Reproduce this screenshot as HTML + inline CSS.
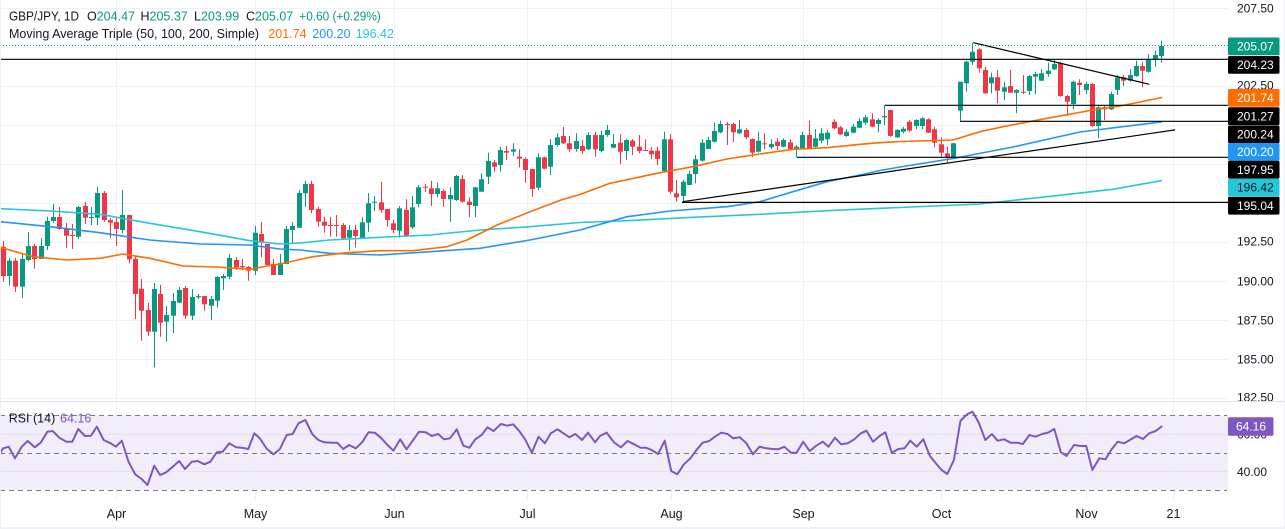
<!DOCTYPE html>
<html><head><meta charset="utf-8">
<style>
html,body{margin:0;padding:0;background:#fff;}
body{width:1285px;height:529px;overflow:hidden;position:relative;}
svg{position:absolute;left:0;top:0;}
</style></head><body>
<svg id="c" width="1285" height="529" viewBox="0 0 1285 529" xmlns="http://www.w3.org/2000/svg" font-family="'Liberation Sans', Arial, sans-serif">
<defs>
<clipPath id="pp"><rect x="0" y="0" width="1228" height="401"/></clipPath>
<clipPath id="pa"><rect x="1228" y="0" width="57" height="401"/></clipPath>
<clipPath id="rp"><rect x="0" y="402" width="1228" height="98"/></clipPath>
</defs>
<rect x="0" y="0" width="1285" height="529" fill="#fff"/>
<!-- RSI band -->
<rect x="0" y="415.3" width="1228" height="74.7" fill="#f2eef9"/>
<!-- grid -->
<g stroke="#eef0f4" stroke-width="1">
<line x1="0" x2="1228" y1="8.5" y2="8.5"/>
<line x1="0" x2="1228" y1="47.5" y2="47.5"/>
<line x1="0" x2="1228" y1="86.5" y2="86.5"/>
<line x1="0" x2="1228" y1="125.5" y2="125.5"/>
<line x1="0" x2="1228" y1="164.5" y2="164.5"/>
<line x1="0" x2="1228" y1="203.5" y2="203.5"/>
<line x1="0" x2="1228" y1="242.5" y2="242.5"/>
<line x1="0" x2="1228" y1="281.5" y2="281.5"/>
<line x1="0" x2="1228" y1="320.5" y2="320.5"/>
<line x1="0" x2="1228" y1="359.5" y2="359.5"/>
<line x1="0" x2="1228" y1="398.5" y2="398.5"/>
<line x1="0" x2="1228" y1="434.5" y2="434.5" stroke="#e6e1f2"/>
<line x1="0" x2="1228" y1="471.5" y2="471.5" stroke="#e6e1f2"/>
</g>
<g stroke="#eef0f4" stroke-width="1">
<line x1="116.5" x2="116.5" y1="0" y2="500"/>
<line x1="255.5" x2="255.5" y1="0" y2="500"/>
<line x1="394.5" x2="394.5" y1="0" y2="500"/>
<line x1="527.5" x2="527.5" y1="0" y2="500"/>
<line x1="671.5" x2="671.5" y1="0" y2="500"/>
<line x1="803.5" x2="803.5" y1="0" y2="500"/>
<line x1="941.5" x2="941.5" y1="0" y2="500"/>
<line x1="1086.5" x2="1086.5" y1="0" y2="500"/>
<line x1="1173.5" x2="1173.5" y1="0" y2="500"/>
</g>
<!-- pane separator -->
<line x1="0" x2="1285" y1="401.5" y2="401.5" stroke="#e0e3eb" stroke-width="1"/>

<g clip-path="url(#pp)">
<g id="candles"></g>
<!-- moving averages -->
<polyline fill="none" stroke="#26c6da" stroke-width="1.6" stroke-linejoin="round" points="0,208.7 50,211 100,214.3 150,223.3 200,231.7 250,240.7 280,244 300,243 330,240 380,237.3 430,235 480,230 530,226.7 580,222.5 627,220.7 693,217.3 760,214.3 827,210.7 880,208.3 900,207.5 980,204 1047,196.7 1113,189.3 1162,180.5"/>
<polyline fill="none" stroke="#2196f3" stroke-width="1.6" stroke-linejoin="round" points="0,221.7 50,226.7 100,232.7 150,240 200,244 250,245 280,249 300,250 330,253.3 380,255 430,251.7 480,248.3 530,240 580,230 627,216.7 670,211 727,206.7 760,201.7 793,191.7 827,181.7 860,175 880,170.5 900,167 953,158.5 1013,147 1080,132 1162,121.8"/>
<polyline fill="none" stroke="#ff6d00" stroke-width="1.6" stroke-linejoin="round" points="0,247.3 33,256.7 67,260 100,258.3 123,254 150,258.3 183,266 217,267 250,269.3 267,266 280,264 300,259.5 313,256.7 347,252.7 380,250.7 413,250.7 447,246.7 467,240 497,225 530,211.7 563,199.3 580,194.5 610,183.3 660,172.7 693,166.7 727,159 760,154 793,149.3 827,147.7 860,144.3 880,142.7 900,141.5 953,140 980,131.7 1003,126.7 1047,118.3 1093,110 1120,106 1162,97.5"/>
<!-- drawings -->
<g stroke="#000" stroke-width="1.2" fill="none">
<line x1="0" x2="1228" y1="59.3" y2="59.3"/>
<line x1="885" x2="1228" y1="105.3" y2="105.3"/>
<line x1="960" x2="1228" y1="121.3" y2="121.3"/>
<line x1="797" x2="1228" y1="157.3" y2="157.3"/>
<line x1="682" x2="1228" y1="202.4" y2="202.4"/>
<line x1="682.7" x2="1175" y1="201.7" y2="129.9"/>
<line x1="973.3" x2="1149.3" y1="42.7" y2="84.3"/>
</g>
<line x1="0" x2="1228" y1="45.5" y2="45.5" stroke="#089981" stroke-width="1" stroke-dasharray="1,2"/>
</g>

<!-- legend -->
<g font-size="12.5" fill="#131722">
<text x="9" y="20.5" textLength="70" lengthAdjust="spacingAndGlyphs">GBP/JPY, 1D</text>
<text x="87" y="20.5">O<tspan fill="#089981">204.47</tspan></text>
<text x="140.5" y="20.5">H<tspan fill="#089981">205.37</tspan></text>
<text x="194" y="20.5">L<tspan fill="#089981">203.99</tspan></text>
<text x="246" y="20.5">C<tspan fill="#089981">205.07</tspan></text>
<text x="299.3" y="20.5" fill="#089981" textLength="81.5" lengthAdjust="spacingAndGlyphs">+0.60 (+0.29%)</text>
<text x="9" y="38" textLength="250" lengthAdjust="spacingAndGlyphs">Moving Average Triple (50, 100, 200, Simple)</text>
<text x="268.3" y="38" fill="#ff6d00">201.74</text>
<text x="312.3" y="38" fill="#2196f3">200.20</text>
<text x="355.7" y="38" fill="#26c6da">196.42</text>
</g>

<!-- RSI pane -->
<g stroke="#787b86" stroke-width="1" stroke-dasharray="5,4">
<line x1="0" x2="1227" y1="415.5" y2="415.5"/>
<line x1="0" x2="1227" y1="453.5" y2="453.5"/>
<line x1="0" x2="1227" y1="490.5" y2="490.5"/>
</g>
<g clip-path="url(#rp)">
<polyline id="rsi" fill="none" stroke="#7e57c2" stroke-width="2" stroke-linejoin="round" points="0,453.3 3.2,448.3 8.7,446.7 15,458.3 21.7,446.7 27.7,441 34.8,447.3 40.7,442.7 47.4,431.7 52.6,431 59.3,437.7 66.4,441.7 72.4,441.7 78.3,429 85,436 91,435.7 96.9,426.7 103.6,440 110.7,443.3 115.9,446.7 121.8,440.7 128.5,461.7 135.2,474.3 141.6,479 147.5,485 154.2,465.7 160.1,475 166.1,472.3 172.8,466.7 179.1,461 185,469 191.8,461.7 197.7,461 204.4,464.3 210.4,461.7 216.7,452.3 222.6,451.7 229.3,443.3 236.1,447.3 242,447.7 248.3,449 254.3,433.3 259.8,438.3 266.9,449 273.6,454.3 279.9,449 286.7,435 292.6,434 298.5,423.3 305.3,420 312.4,434.3 318.3,440 324.2,442.3 331.4,442.7 337.3,442.7 343.2,449 349.1,445 355.9,448.3 362.6,441.7 368.5,432.3 374.8,432.7 380.8,437.7 387.5,445 393.4,450.7 400.2,439.3 406.5,449.3 413.2,440 419.1,431.7 425.9,432.3 431.8,436 438.1,434 444,439.3 450,438.3 456.7,429.3 463.4,445.7 469.4,447.7 475.3,439.3 481.6,435 487.5,427.3 493.5,431 501,424 507.3,425.7 513.2,424.3 519.2,431 525.1,439.3 531.8,452.7 538.5,436.7 544.9,443.3 550.8,433.3 557.5,429.3 563.5,433.3 569.4,437.3 575.3,434 582,440 588,432.7 595.1,442.3 600,436 606.6,432.7 614.4,442.7 621,447.3 627.5,441 634.1,444.3 640.6,447.7 645.9,447.7 651.6,450 658.1,454 664.7,440.7 671.2,471 677.3,474.3 683.9,464.3 690.4,458.3 697,449.3 702.7,442.7 709.2,441 714.9,436.7 721.4,432.7 727.6,434 733.2,438.3 739.8,437.3 746.4,443.3 752.9,454.3 759.5,446.7 766,448.3 772.6,449 778.2,449.3 784.4,446.7 790.9,452.7 796.6,452.7 803.1,441.7 809.7,451 816.3,445.7 822.8,441.7 828.5,446.7 835,437.7 841.2,444.3 847.7,443.3 854.3,439.3 860.8,433.3 866.5,430.7 873,441.7 879.6,436 885.3,432.3 891.8,452.7 898.4,449 904.5,448.3 910.2,440.7 916.7,446.7 923.3,439.3 929.8,455.7 936.4,464 941.6,470 947.3,474 953.9,460 960.4,421 967,414.3 972.6,411.7 978.8,422.7 985.3,440 991.9,434 997.6,440.7 1004.1,439.3 1010.7,442.7 1017.2,442.7 1022.9,444 1029.4,435 1035.6,436.7 1042.1,434 1047.8,432.7 1054.3,429 1060.9,452.3 1066.6,456 1074,445 1080.6,446 1086.2,446 1092.4,470 1099.3,458.3 1105.5,459.3 1111.1,450 1117.7,441.7 1124.2,443.3 1129.9,440 1136.5,436 1143,439 1149.2,433.3 1155.7,431 1162.2,426"/>
</g>
<text x="8.7" y="422.5" font-size="12.5" fill="#131722">RSI (14)</text>
<text x="60" y="422.5" font-size="12.5" fill="#7e57c2">64.16</text>

<!-- price axis tick labels -->
<g font-size="12" fill="#131722" clip-path="url(#pa)">
<text x="1237" y="12.5">207.50</text>
<text x="1237" y="89.5">202.50</text>
<text x="1237" y="245.3">192.50</text>
<text x="1237" y="285.3">190.00</text>
<text x="1237" y="324.3">187.50</text>
<text x="1237" y="363.3">185.00</text>
<text x="1237" y="401.5">182.50</text>
</g>
<g font-size="12" fill="#131722">
<text x="1237" y="438.7">60.00</text>
<text x="1237" y="476">40.00</text>
</g>
<!-- price labels boxes -->
<g font-size="12">
<rect x="1228" y="37.5" width="51.5" height="17.8" rx="1.5" fill="#089981"/><text x="1237" y="50.6" fill="#fff">205.07</text>
<rect x="1228" y="56" width="51.5" height="17.8" rx="1.5" fill="#000"/><text x="1237" y="69.1" fill="#fff">204.23</text>
<rect x="1228" y="89" width="51.5" height="17.8" rx="1.5" fill="#ff6d00"/><text x="1237" y="102.1" fill="#fff">201.74</text>
<rect x="1228" y="107.3" width="51.5" height="17.8" rx="1.5" fill="#000"/><text x="1237" y="120.4" fill="#fff">201.27</text>
<rect x="1228" y="125.5" width="51.5" height="17.8" rx="1.5" fill="#000"/><text x="1237" y="138.6" fill="#fff">200.24</text>
<rect x="1228" y="143" width="51.5" height="17.8" rx="1.5" fill="#2196f3"/><text x="1237" y="156.1" fill="#fff">200.20</text>
<rect x="1228" y="160.7" width="51.5" height="17.8" rx="1.5" fill="#000"/><text x="1237" y="173.8" fill="#fff">197.95</text>
<rect x="1228" y="178.5" width="51.5" height="17.8" rx="1.5" fill="#26c6da"/><text x="1237" y="191.6" fill="#131722">196.42</text>
<rect x="1228" y="196.8" width="51.5" height="17.8" rx="1.5" fill="#000"/><text x="1237" y="209.9" fill="#fff">195.04</text>
<rect x="1228" y="417.3" width="45.5" height="18.4" rx="1.5" fill="#7e57c2"/><text x="1236" y="430.7" fill="#fff">64.16</text>
</g>

<!-- time axis -->
<g font-size="12.5" fill="#131722" text-anchor="middle">
<text x="116.5" y="517.8">Apr</text>
<text x="255.5" y="517.8">May</text>
<text x="394.5" y="517.8">Jun</text>
<text x="527.5" y="517.8">Jul</text>
<text x="671.5" y="517.8">Aug</text>
<text x="803.5" y="517.8">Sep</text>
<text x="941.5" y="517.8">Oct</text>
<text x="1086.5" y="517.8">Nov</text>
<text x="1173.5" y="517.8">21</text>
</g>

<!-- frame -->
<rect x="0" y="0" width="1" height="529" fill="#eef0f4"/>
<rect x="1284" y="0" width="1" height="529" fill="#eef0f4"/>
<rect x="0" y="527" width="1285" height="2" fill="#eef0f4"/>
</svg>
<script>
var D=[[246.7,276,241,281.7,0],[260.7,276,258,285.7,1],[260.7,286.7,258,292,0],[259,286.7,253,298,1],[246,260,232,261,1],[246,259,244,268.7,0],[246,259,238,259,1],[221,246,216.7,250,1],[217,221,204,222.7,1],[217,229,207,230,0],[229,235.7,223,247.7,0],[235,236,224,249,0],[207,236.7,206,239,1],[206,217.7,202,224,0],[217,217.7,207,225,1],[193,217.7,186.7,225,1],[193,220,191,222,0],[220,222.7,218,237.7,0],[222,229,218,245.7,0],[215,230,190,233,1],[215,259.3,215,263.3,0],[259,294,256.7,319,0],[288.7,310.7,279,340.7,0],[310,331.7,303,335.7,0],[289,331.7,283,367.3,1],[294,322.7,285,336.7,0],[315,321.7,306,341.7,1],[301,315.7,293,333,1],[290,302.7,287,303,1],[288,315.7,286,319,0],[297,315.7,289,320,1],[296,297.3,294,299,1],[296,304.3,296,310.7,0],[299,305.7,296,320,1],[277,300.7,276,307.7,1],[276,278.3,274,290,1],[258,276.7,254,279.3,1],[260,267.3,257,270,0],[266,267.3,259,270,0],[267,270.7,266,280.7,0],[232.7,270.7,226,275,1],[234,242.7,222,257.3,0],[244,265,244,265,0],[264,275,259,275,0],[263,275,254,275,1],[229,264,226,264.3,1],[226,230,222,244,1],[193,227.7,190,228,1],[184,193.3,180.7,206.7,1],[184,210,180.7,213.3,0],[209,221.7,207,226.7,0],[221.7,225.7,216.7,232.7,0],[225,225.7,217,236.7,0],[225,225.7,215,236.7,0],[225,238.3,223,240,0],[230,237.7,225,250.7,1],[230,236,225,247.3,0],[222.3,238.3,217.3,239,1],[203.3,222.7,193.3,231.7,1],[201.7,202.3,196,211,1],[202.3,210,182,212.7,0],[209,220,209,226.7,0],[223.3,230,220,233.3,0],[208.3,230.7,206,237.7,1],[210,236,199.3,236.7,0],[207.3,227.3,196,229,1],[187.3,204,185,207.3,1],[186.7,187.7,184,191.7,0],[188.3,194,180.7,206,0],[188.3,194,182.7,197.3,1],[191,199,189.3,206.7,0],[195,199.3,187.3,221.7,1],[176,200,175,200.7,1],[179,201.7,175,202.7,0],[201.7,205,197.3,217.3,0],[187.3,206,186.7,217.3,1],[179.3,191.7,173.3,191.7,1],[161,176.7,152.7,184,1],[162.3,166.7,160,171.7,0],[150,165,146.7,171.7,1],[151,152.7,146,160,0],[149.3,151.7,143.3,156,1],[156.7,158.7,149.3,167.3,0],[159,170,157.3,182.7,0],[169,189,169,196.7,0],[157.3,187.7,153.3,190,1],[157.3,168.7,156.7,169.3,0],[145,166.7,139.3,175,1],[137.3,145,133.3,146.7,1],[136,143.3,126.7,144,0],[143.3,149.3,136,151.7,0],[141,149,133.3,151.7,1],[146,151,140,154,0],[135,149.3,132.3,150,1],[135,149.3,131.7,156.7,0],[135,151,130.7,152.3,1],[130,135,125,136.7,1],[144,147.7,134.3,148.3,1],[142.7,151.7,134.3,164.3,0],[140,151,139,160,1],[140.7,146.7,139,155,0],[146.7,151,135,153.3,0],[150,150.7,139.3,151,0],[150.7,154.3,146.7,159.3,0],[150.7,159,146.7,165,0],[139.3,171,131.7,171.7,1],[139.3,191.7,134,194,0],[193.3,197.3,180,201.7,0],[181.7,196,180,201.7,1],[174,185,170.7,185,1],[159.3,174,155,183.3,1],[142.7,160.7,139.3,161.7,1],[140,149,136.7,149.3,1],[131,141.7,122.7,142.7,1],[124,132.3,120.7,133.3,1],[124,124.7,122,145,0],[124,132.3,122.7,141.7,0],[129.3,133.3,120,134,1],[130,137.3,128.3,139.3,0],[139,152.7,138.3,157.3,0],[140.7,151.7,131.7,152.7,1],[143.3,144,133.3,149.3,0],[144,147.3,139.3,149,1],[141.7,146,138.3,150,0],[140,146.7,138.3,147.3,1],[142.3,149,139.3,149.3,0],[146.7,149,145,157.3,1],[135,149,131.7,149.3,1],[135,148.3,120.7,149.3,0],[138.3,146.7,129.3,147.3,1],[133.3,140.7,128.3,143.3,1],[132.7,139.3,130,145,1],[121.7,128.3,119.3,129.3,0],[127.3,134.3,126,135,0],[131.7,136,129.3,136.7,1],[126.7,132.7,124,133.3,1],[121,127.7,118.3,128.3,1],[117.3,122.7,115,125,1],[119.3,126.7,113.3,127.3,0],[120,124,118.3,132.3,1],[116,117.3,105,125,1],[110,136,110,136.7,0],[130,137.3,129,138,1],[128.7,131.7,126.7,133.3,1],[121.7,130.7,120,131.7,0],[120,126,119.3,129.3,1],[118.3,126,117.3,129.3,1],[119.3,132.7,118.3,133.3,0],[129.3,142.7,126.7,147.3,0],[144.3,152.7,137.3,156.7,0],[153.3,157.3,146.7,163.3,0],[143.3,159,142.7,159.3,1],[81.7,110.7,81.7,120.7,1],[61.7,83.3,60.7,91.7,1],[51.7,61.7,42.7,65,1],[49.3,68.3,48.3,72.7,0],[70,93.3,66.7,94,0],[77.3,83.3,72.7,93.3,1],[77.3,90.7,70,103.3,0],[87.3,91.7,81.7,100,1],[86,92.7,70,92.7,0],[90,92.7,89.3,113.3,1],[91.7,92.7,75,94,0],[76,91,75,95,1],[74,76.7,71.7,94,1],[73.3,80.7,69.3,81,1],[70.7,74,62.7,76.7,1],[64,69.3,59.3,70,1],[63.3,96,61.7,96.7,0],[96,101.7,95,116,0],[81.7,104,80.7,109.3,1],[82.7,85,79.3,95,0],[84,90,81.7,94,1],[84,126,83.3,127.3,0],[107.3,126,106,138.3,1],[107.3,109.3,106,120,0],[94,109.3,91.7,110,1],[77.3,90,75,95,1],[77.3,80.7,75,86,0],[75,80.7,69.3,81.7,1],[66,76,60.7,76.7,1],[66,70.7,61.7,87.3,0],[59.3,71.7,54,72.7,1],[55,59.3,50.7,66.7,1],[46,56,40.7,62.7,1]];
var h='';
for(var i=0;i<D.length;i++){
  var d=D[i],x=3.3+i*6.295,bx=Math.round(x-2.5),col=d[4]?'#089981':'#f23645';
  var t=d[0],b=d[1]; if(b-t<1){b=t+1;}
  h+='<line x1="'+(bx+2.5)+'" x2="'+(bx+2.5)+'" y1="'+d[2]+'" y2="'+d[3]+'" stroke="'+col+'" stroke-width="1"/>';
  h+='<rect x="'+bx+'" y="'+t+'" width="5" height="'+(b-t)+'" fill="'+col+'"/>';
}
document.getElementById('candles').innerHTML=h;
</script>
</body></html>
